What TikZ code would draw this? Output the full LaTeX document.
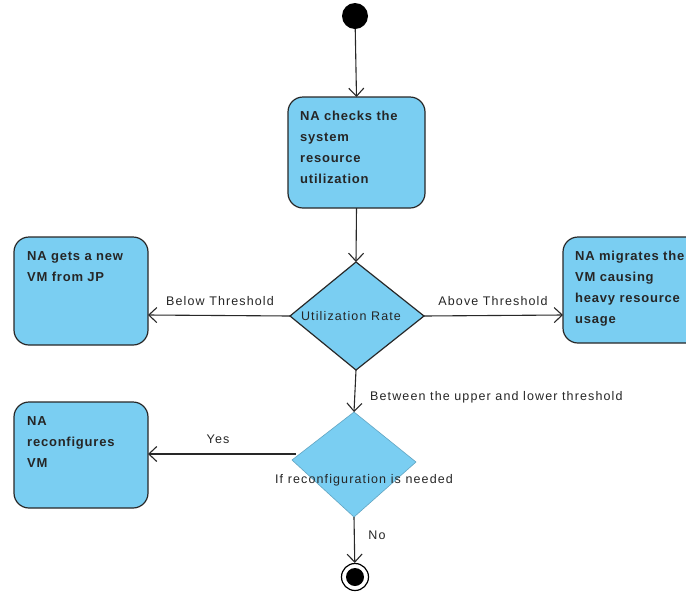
\documentclass[tikz,border=0pt]{standalone}
\usepackage{fontspec}
\setmainfont{Liberation Sans}
\newfontfamily\lblfont[LetterSpace=9]{Liberation Sans}
\newfontfamily\boxfont[LetterSpace=6]{Liberation Sans}
\usetikzlibrary{arrows.meta,shapes.geometric}
\definecolor{actfill}{RGB}{122,206,242}
\definecolor{edge}{RGB}{40,40,40}
\tikzset{
  actbox/.style={draw=edge, line width=1.2pt, fill=actfill, rounded corners=15pt, inner sep=0pt},
  boxtext/.style={anchor=north west, align=left, font=\boxfont\fontsize{13}{21}\selectfont\bfseries, inner sep=0pt, text=black!85},
  flow/.style={draw=edge, line width=1.1pt, -{Straight Barb[length=8pt,width=15pt,line width=1.1pt]}},
  lbl/.style={font=\lblfont\fontsize{12.5}{14}\selectfont, text=black!85, inner sep=0pt},
}
\begin{document}
\begin{tikzpicture}[x=1pt,y=-1pt]
\useasboundingbox (0,0) rectangle (686,598);
\clip (0,0) rectangle (686,598);
\fill[white] (0,0) rectangle (686,598);
% start
\node[circle, fill=black, minimum size=26pt, inner sep=0pt] (start) at (355,16) {};
% boxes
\path[actbox] (288,97) rectangle (425,208);
\coordinate (b1n) at (356.5,97); \coordinate (b1s) at (356.5,208);
\node[boxtext] (t1) at (300,111) {NA checks the\\system\\resource\\utilization};
\path[actbox] (14,237) rectangle (148,345);
\coordinate (b2e) at (148,315);
\node[boxtext] (t2) at (27,251) {NA gets a new\\VM from JP};
\path[actbox] (563,237) rectangle (705,343);
\coordinate (b3w) at (563,315);
\node[boxtext] (t3) at (575,251) {NA migrates the\\VM causing\\heavy resource\\usage};
\path[actbox] (14,402) rectangle (148,508);
\coordinate (b4e) at (148,454);
\node[boxtext] (t4) at (27,416) {NA\\reconfigures\\VM};
% decisions
\path[fill=actfill, draw=edge, line width=1.2pt] (356,262) -- (424,316) -- (356,370) -- (290,316) -- cycle;
\coordinate (d1n) at (356,262); \coordinate (d1s) at (356,370);
\coordinate (d1w) at (290,316); \coordinate (d1e) at (424,316);
\node[lbl] (d1t) at (351,316) {Utilization Rate};
\path[fill=actfill, draw=actfill!80!black, line width=0.6pt] (354,412) -- (416,462) -- (354,517) -- (292,460) -- cycle;
\coordinate (d2n) at (354,412); \coordinate (d2s) at (354,517);
\coordinate (d2w) at (296,454);
\node[lbl] (d2t) at (364,480) {If reconfiguration is needed};
% end
\node[circle, draw=black, line width=1.2pt, fill=white, minimum size=27pt, inner sep=0pt] (end) at (355,577) {};
\node[circle, fill=black, minimum size=18pt, inner sep=0pt] (endin) at (355,577) {};
% flows
\draw[flow] (start) -- (b1n);
\draw[flow] (b1s) -- (d1n);
\draw[flow] (d1w) -- (b2e);
\draw[flow] (d1e) -- (b3w);
\draw[flow] (d1s) -- (d2n);
\draw[flow] (d2w) -- (b4e);
\draw[flow] (d2s) -- (end);
% labels
\node[lbl] (l1) at (220,301) {Below Threshold};
\node[lbl] (l2) at (493,301) {Above Threshold};
\node[lbl, anchor=west] (l3) at (370,397) {Between the upper and lower threshold};
\node[lbl] (l4) at (218,439) {Yes};
\node[lbl] (l5) at (377,535) {No};
\end{tikzpicture}
\end{document}
